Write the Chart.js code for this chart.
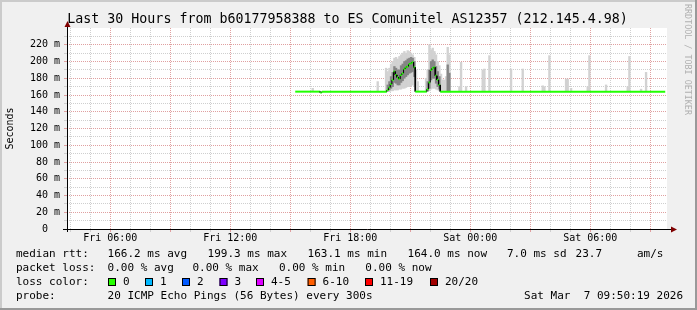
<!DOCTYPE html>
<html>
<head>
<meta charset="utf-8">
<script src="https://cdn.jsdelivr.net/npm/chart.js@4.4.1/dist/chart.umd.min.js"></script>
<style>
  html, body { margin: 0; padding: 0; background: #f0f0f0; }
  #wrap { width: 697px; height: 310px; }
</style>
</head>
<body>
<div id="wrap"><canvas id="smoke"></canvas></div>
<script>
// x values are hours since Fri 00:00, one step = 5 minutes (300 s)
const startHour = 3.8386;   // Fri 03:50:19
const endHour = 33.8386;    // Sat 09:50:19
const stepHour = 1 / 12;

const xTickHours = [6, 12, 18, 24, 30];
const xTickLabels = ['Fri 06:00', 'Fri 12:00', 'Fri 18:00', 'Sat 00:00', 'Sat 06:00'];
const yTickValues = [0, 20, 40, 60, 80, 100, 120, 140, 160, 180, 200, 220];
const yTickLabels = ['0  ', '20 m', '40 m', '60 m', '80 m', '100 m', '120 m', '140 m', '160 m', '180 m', '200 m', '220 m'];

// median rtt in ms, each value holds until the next start
const medianStart = [15.25, 16.5, 16.583, 19.833, 19.917, 20.0, 20.083, 20.167, 20.25, 20.333, 20.417, 20.5, 20.583, 20.667, 20.75, 20.833, 20.917, 21.0, 21.083, 21.167, 21.25, 21.833, 21.917, 22.0, 22.083, 22.167, 22.25, 22.333, 22.417, 22.5];
const medianValue = [164, 163, 164, 166, 169, 173, 178, 188, 184, 181, 179, 184, 186, 191, 193, 194, 197, 198, 199, 193, 164, 167, 175, 190, 192, 193, 183, 178, 172, 164];
const medianEnd = 33.75;

// smoke: spread of the 20 pings in a step (ms)
const smokeStart = [16.083, 19.333, 19.75, 19.833, 19.917, 20.0, 20.083, 20.167, 20.25, 20.333, 20.417, 20.5, 20.583, 20.667, 20.75, 20.833, 20.917, 21.0, 21.083, 21.167, 21.25, 21.333, 21.75, 21.833, 21.917, 22.0, 22.083, 22.167, 22.25, 22.333, 22.417, 22.5, 22.583, 22.667, 22.75, 22.833, 22.917, 23.417, 23.5, 23.75, 24.583, 24.667, 24.917, 26.0, 26.583, 27.583, 27.667, 27.917, 28.75, 28.833, 29.0, 29.833, 29.917, 30.75, 31.833, 31.917, 32.5, 32.75];
const smokeLow = [164, 164, 164, 164, 164, 165, 165, 166, 166, 166, 167, 167, 168, 168, 169, 170, 170, 171, 172, 170, 164, 164, 164, 164, 165, 167, 168, 168, 167, 166, 165, 164, 164, 164, 164, 164, 164, 164, 164, 164, 164, 164, 164, 164, 164, 164, 164, 164, 164, 164, 164, 164, 164, 164, 164, 164, 164, 164];
const smokeHigh = [168, 176, 192, 188, 192, 197, 200, 204, 205, 203, 206, 208, 210, 212, 210, 213, 212, 210, 208, 205, 190, 176, 180, 190, 220, 214, 216, 212, 208, 200, 195, 185, 178, 178, 182, 217, 208, 170, 199, 170, 190, 191, 207, 191, 191, 171, 170, 207, 179, 179, 168, 170, 207, 172, 170, 206, 167, 187];

// darker core of the smoke (ms)
const coreStart = [19.833, 19.917, 20.0, 20.083, 20.167, 20.25, 20.333, 20.417, 20.5, 20.583, 20.667, 20.75, 20.833, 20.917, 21.0, 21.083, 21.167, 21.833, 21.917, 22.0, 22.083, 22.167, 22.25, 22.333, 22.417, 22.833, 22.917];
const coreLow = [165, 166, 168, 170, 175, 174, 172, 172, 175, 177, 180, 182, 184, 186, 187, 188, 182, 165, 168, 178, 180, 180, 174, 170, 167, 165, 165];
const coreHigh = [172, 176, 182, 187, 194, 192, 190, 190, 195, 197, 200, 201, 203, 204, 205, 204, 200, 176, 190, 200, 202, 200, 194, 188, 182, 196, 186];

// legend text
const titleText = 'Last 30 Hours from b60177958388 to ES Comunitel AS12357 (212.145.4.98)';
const rttText = ['166.2 ms avg', '199.3 ms max', '163.1 ms min', '164.0 ms now', '7.0 ms sd', '23.7', 'am/s'];
const lossText = ['0.00 % avg', '0.00 % max', '0.00 % min', '0.00 % now'];
const lossNames = ['0', '1', '2', '3', '4-5', '6-10', '11-19', '20/20'];
const lossColors = ['#26ff00', '#00b8ff', '#0059ff', '#7e00ff', '#dd00ff', '#ff5e00', '#ff0000', '#a10000'];
const probeText = '20 ICMP Echo Pings (56 Bytes) every 300s';
const dateText = 'Sat Mar  7 09:50:19 2026';

const rttX = [107.6, 207.6, 307.6, 407.6, 507, 575.6, 637];
const lossX = [107.6, 192.4, 279, 365.3];
const swatchX = [108, 145, 182, 219.5, 256, 307.6, 365, 430];

const GREEN = '#22ff00';
const GRID = '#cfcfcf';
const MGRID = '#e0a0a0';
const MONO = '"DejaVu Sans Mono", monospace';

// median as horizontal steps joined by vertical jumps
const medianPoints = [];
medianStart.forEach(function (t, i) {
    const next = i + 1 < medianStart.length ? medianStart[i + 1] : medianEnd;
    medianPoints.push({x: t, y: medianValue[i]});
    medianPoints.push({x: next, y: medianValue[i]});
});

const rrdDecor = {
    id: 'rrdDecor',
    beforeDraw: function (chart) {
        const ctx = chart.ctx, a = chart.chartArea;
        ctx.save();
        ctx.fillStyle = '#f0f0f0';
        ctx.fillRect(0, 0, chart.width, chart.height);
        ctx.fillStyle = '#ffffff';
        ctx.fillRect(a.left, a.top, a.right - a.left, a.bottom - a.top);
        ctx.restore();
    },
    afterDraw: function (chart) {
        const ctx = chart.ctx, a = chart.chartArea;
        ctx.save();

        // frame
        ctx.fillStyle = '#cbcbcb';
        ctx.fillRect(0, 0, chart.width, 2);
        ctx.fillRect(0, 0, 2, chart.height);
        ctx.fillStyle = '#999999';
        ctx.fillRect(0, chart.height - 2, chart.width, 2);
        ctx.fillRect(chart.width - 2, 0, 2, chart.height);

        // axes with arrows
        const x0 = a.left + 0.5, y0 = a.bottom + 0.5;
        ctx.strokeStyle = '#000000';
        ctx.lineWidth = 1;
        ctx.beginPath();
        ctx.moveTo(a.left - 4, y0);
        ctx.lineTo(a.right + 5, y0);
        ctx.moveTo(x0, a.bottom + 3);
        ctx.lineTo(x0, a.top - 3);
        ctx.stroke();
        ctx.fillStyle = '#7f0000';
        ctx.beginPath();
        ctx.moveTo(a.right + 10, y0);
        ctx.lineTo(a.right + 4, y0 - 3);
        ctx.lineTo(a.right + 4, y0 + 3);
        ctx.fill();
        ctx.beginPath();
        ctx.moveTo(x0, a.top - 7);
        ctx.lineTo(x0 - 3, a.top - 1);
        ctx.lineTo(x0 + 3, a.top - 1);
        ctx.fill();

        // title
        ctx.fillStyle = '#000000';
        ctx.font = '13.3px ' + MONO;
        ctx.textAlign = 'center';
        ctx.textBaseline = 'middle';
        ctx.fillText(titleText, 347.5, 20);

        // legend
        ctx.font = '11px ' + MONO;
        ctx.textAlign = 'left';
        ctx.fillText('median rtt:', 16, 254);
        rttText.forEach(function (s, i) { ctx.fillText(s, rttX[i], 254); });
        ctx.fillText('packet loss:', 16, 268);
        lossText.forEach(function (s, i) { ctx.fillText(s, lossX[i], 268); });
        ctx.fillText('loss color:', 16, 282);
        lossNames.forEach(function (s, i) {
            ctx.fillStyle = lossColors[i];
            ctx.fillRect(swatchX[i], 278, 8, 8);
            ctx.strokeStyle = '#000000';
            ctx.strokeRect(swatchX[i] + 0.5, 278.5, 7, 7);
            ctx.fillStyle = '#000000';
            ctx.fillText(s, swatchX[i] + 15, 282);
        });
        ctx.fillText('probe:', 16, 296);
        ctx.fillText(probeText, 107.6, 296);
        ctx.textAlign = 'right';
        ctx.fillText(dateText, 683, 296);

        // watermark
        ctx.translate(687.5, 4);
        ctx.rotate(Math.PI / 2);
        ctx.textAlign = 'left';
        ctx.fillStyle = '#b0b0b0';
        ctx.font = '8.4px ' + MONO;
        ctx.fillText('RRDTOOL / TOBI OETIKER', 0, 0);
        ctx.restore();
    }
};

Chart.defaults.font.family = MONO;
Chart.defaults.color = '#000000';

new Chart(document.getElementById('smoke'), {
    type: 'line',
    data: {
        datasets: [
            {
                type: 'line',
                data: medianPoints,
                borderColor: GREEN,
                borderWidth: 2,
                pointRadius: 0,
                tension: 0,
                order: 0,
                segment: {
                    borderColor: function (c) { return c.p0.parsed.y === c.p1.parsed.y ? GREEN : '#000000'; },
                    borderWidth: function (c) { return c.p0.parsed.y === c.p1.parsed.y ? 2 : 1; }
                }
            },
            {
                type: 'bar',
                data: coreStart.map(function (t, i) { return {x: t + stepHour / 2, y: [coreLow[i], coreHigh[i]]}; }),
                backgroundColor: '#858585',
                borderWidth: 0,
                barThickness: 1.7,
                grouped: false,
                order: 1
            },
            {
                type: 'bar',
                data: smokeStart.map(function (t, i) { return {x: t + stepHour / 2, y: [smokeLow[i], smokeHigh[i]]}; }),
                backgroundColor: '#d2d2d2',
                borderWidth: 0,
                barThickness: 1.7,
                grouped: false,
                order: 2
            }
        ]
    },
    options: {
        responsive: true,
        maintainAspectRatio: false,
        animation: false,
        layout: { padding: { left: 0, top: 28, right: 30, bottom: 0 } },
        plugins: {
            legend: { display: false },
            tooltip: { enabled: false },
            title: { display: false }
        },
        scales: {
            x: {
                type: 'linear',
                min: startHour,
                max: endHour,
                offset: false,
                afterBuildTicks: function (axis) {
                    const ticks = [];
                    for (let h = Math.ceil(startHour); h <= endHour; h++) ticks.push({value: h});
                    axis.ticks = ticks;
                },
                afterFit: function (axis) { axis.height = 81; },
                border: { display: false, dash: [1, 1] },
                grid: {
                    offset: false,
                    color: function (c) { return c.tick && c.tick.value % 3 === 0 ? MGRID : GRID; },
                    tickLength: 3
                },
                ticks: {
                    autoSkip: false,
                    maxRotation: 0,
                    padding: 0,
                    font: { size: 10 },
                    callback: function (v) {
                        const i = xTickHours.indexOf(v);
                        return i >= 0 ? xTickLabels[i] : '';
                    }
                }
            },
            y: {
                min: 0,
                max: 240,
                afterBuildTicks: function (axis) {
                    const ticks = [];
                    for (let v = 0; v < 240; v += 10) ticks.push({value: v});
                    axis.ticks = ticks;
                },
                afterFit: function (axis) { axis.width = 67; },
                border: { display: false, dash: [1, 1] },
                grid: {
                    color: function (c) { return c.tick && c.tick.value % 20 === 0 ? MGRID : GRID; },
                    tickLength: 3
                },
                title: {
                    display: true,
                    text: 'Seconds',
                    font: { size: 10 },
                    padding: { top: 4, bottom: 0 }
                },
                ticks: {
                    autoSkip: false,
                    padding: 4,
                    font: { size: 10 },
                    callback: function (v) {
                        const i = yTickValues.indexOf(v);
                        return i >= 0 ? yTickLabels[i] : '';
                    }
                }
            }
        }
    },
    plugins: [rrdDecor]
});
</script>
</body>
</html>
